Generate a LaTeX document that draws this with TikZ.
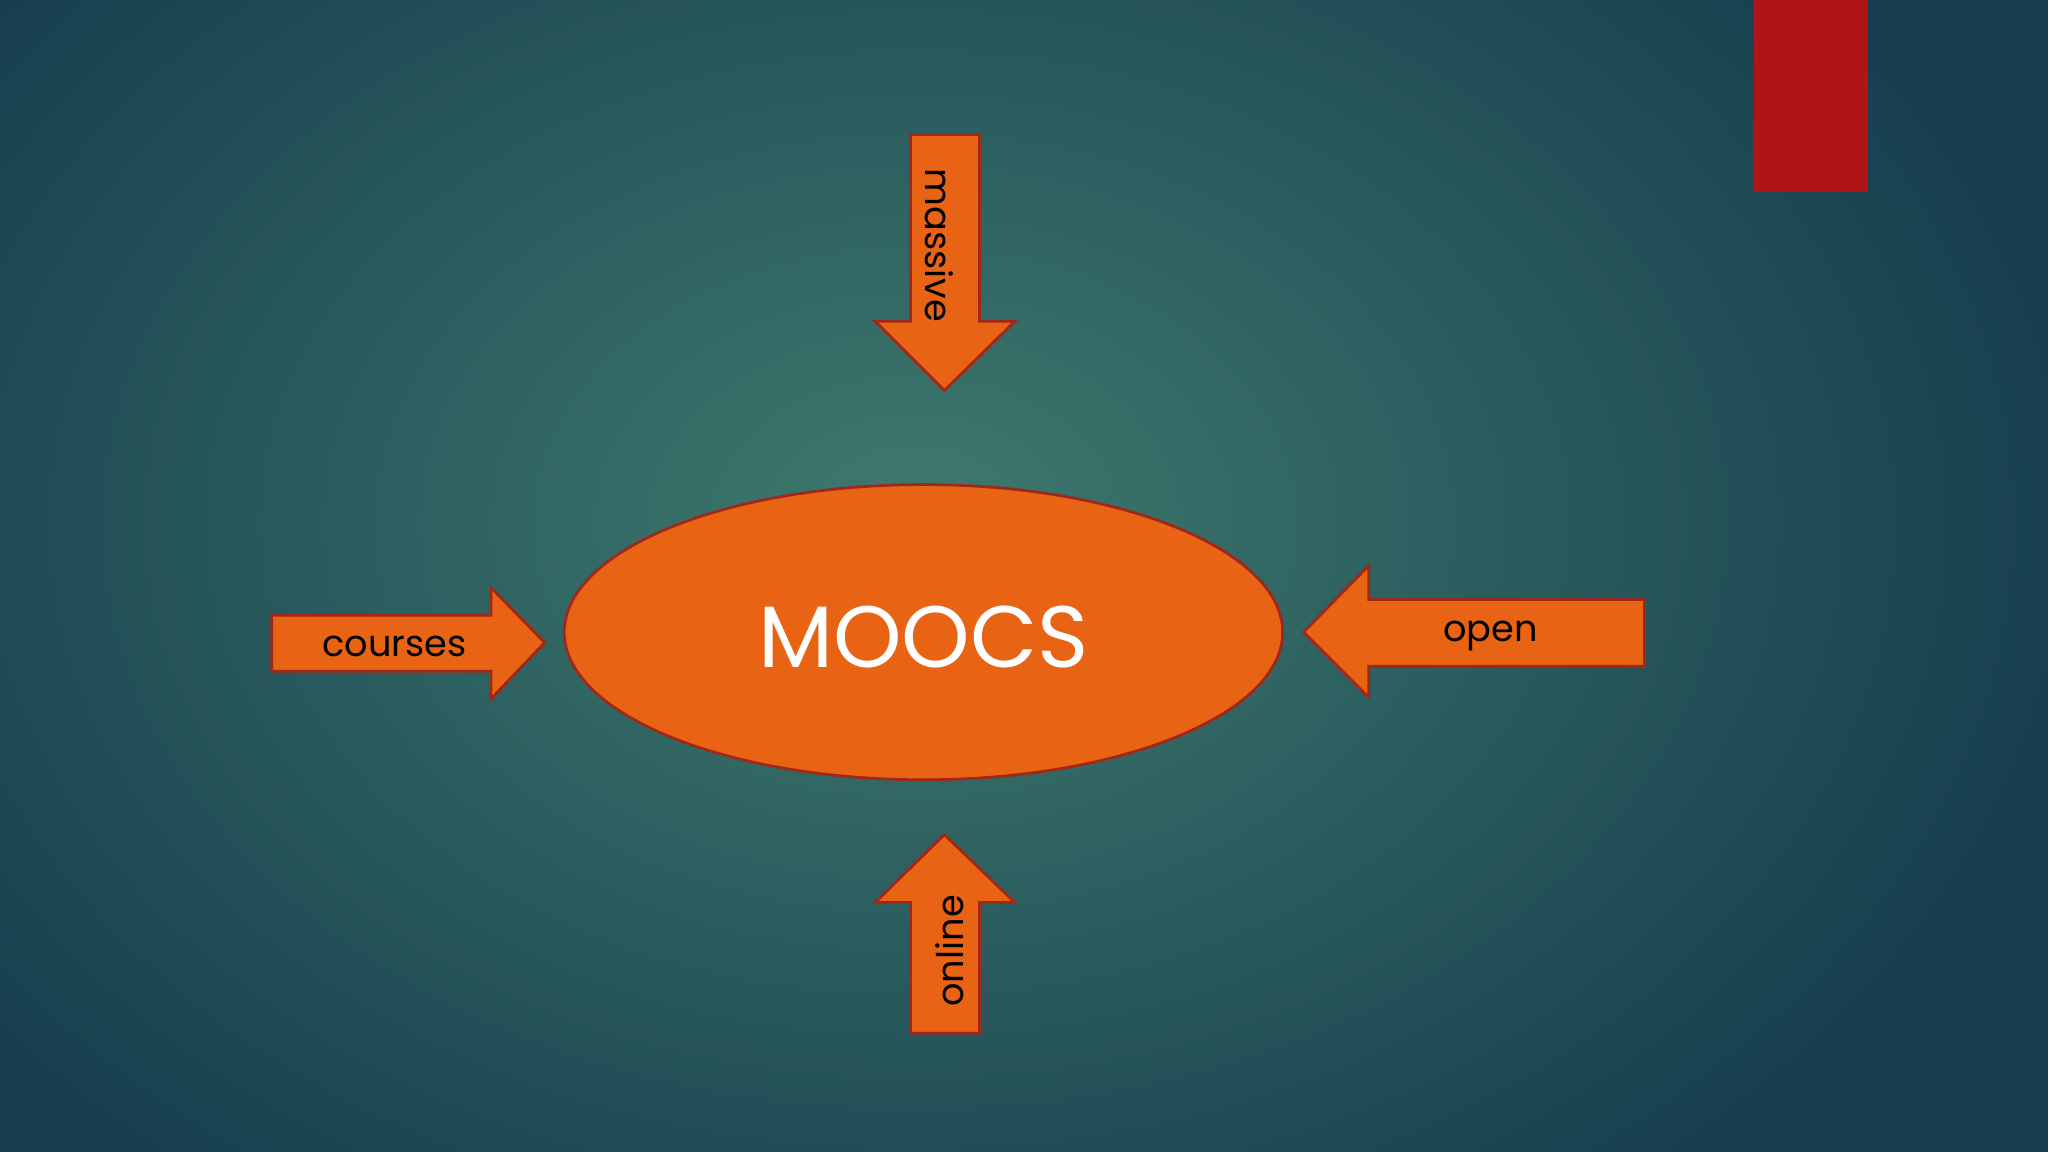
\documentclass[tikz,border=0pt]{standalone}
\usepackage{fontspec}
\setmainfont{Poppins}
\definecolor{arrowfill}{HTML}{E96314}
\definecolor{arrowline}{HTML}{A0281A}
\definecolor{bgin}{HTML}{3E7A6E}
\definecolor{bgout}{HTML}{173E4E}
\definecolor{redbar}{HTML}{B01515}
\begin{document}
\begin{tikzpicture}[x=0.02cm,y=-0.02cm,
  orangeshape/.style={fill=arrowfill,draw=arrowline,line width=1.2pt,line join=miter},
  lbl/.style={font=\fontsize{16}{18}\selectfont,text=black,inner sep=0pt}]
\useasboundingbox (0,0) rectangle (1568,882);
\shade[inner color=bgin,outer color=bgout] (-200,-250) rectangle (1600,1050);
\fill[redbar] (1343,0) rectangle (1430,147);
\draw[orangeshape] (707,484) ellipse [x radius=275, y radius=113];
\node[text=white,font=\fontsize{38}{42}\selectfont,inner sep=0pt] (m) at (707,488) {MOOCS};
% massive
\draw[orangeshape] (697,103) -- (750,103) -- (750,246) -- (777,246) -- (723,299) -- (670,246) -- (697,246) -- cycle;
\node[lbl,rotate=-90] (ma) at (719,188) {massive};
% courses
\draw[orangeshape] (208,471) -- (376,471) -- (376,450) -- (417,492) -- (376,535) -- (376,514) -- (208,514) -- cycle;
\node[lbl] (co) at (302,495) {courses};
% open
\draw[orangeshape] (1259,459) -- (1048,459) -- (1048,433) -- (998,484) -- (1048,534) -- (1048,510) -- (1259,510) -- cycle;
\node[lbl] (op) at (1141,487) {open};
% online
\draw[orangeshape] (697,791) -- (750,791) -- (750,691) -- (777,691) -- (723,639) -- (670,691) -- (697,691) -- cycle;
\node[lbl,rotate=90] (on) at (727,728) {online};
\end{tikzpicture}
\end{document}
